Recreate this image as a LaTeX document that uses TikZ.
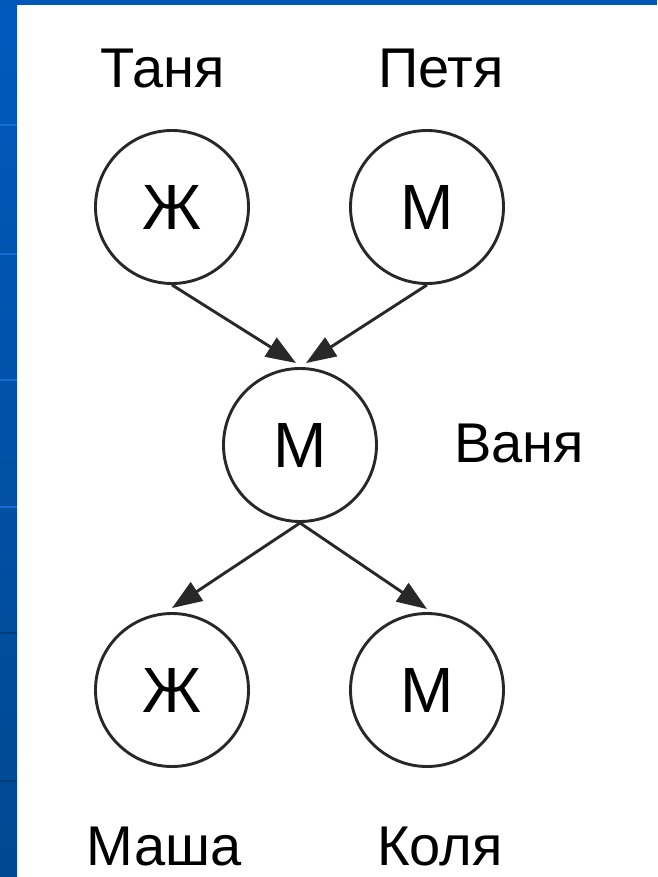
\documentclass[tikz,border=0pt]{standalone}
\usepackage{fontspec}
\setmainfont{Liberation Sans}
\usetikzlibrary{arrows.meta}
\definecolor{stripetop}{RGB}{0,90,190}
\definecolor{stripebot}{RGB}{0,72,145}
\definecolor{topband}{RGB}{0,88,184}
\definecolor{lightrule}{RGB}{20,110,210}
\definecolor{darkrule}{RGB}{0,60,120}
\definecolor{ink}{RGB}{40,40,40}
\begin{document}
\begin{tikzpicture}[x=1pt,y=-1pt,
  person/.style={circle,draw=ink,line width=2.9pt,minimum size=153pt,inner sep=0pt,
    font=\fontsize{64}{66}\selectfont},
  personname/.style={anchor=base,inner sep=0pt,font=\fontsize{56}{60}\selectfont},
  link/.style={draw=ink,line width=2.9pt,-{Triangle[length=30pt,width=22pt]}},
  stripeline/.style={line width=2pt}]
% page with blue frame strips
\fill[white] (0,0) rectangle (657,877);
\useasboundingbox (0,0) rectangle (657,877);
\shade[top color=stripetop,bottom color=stripebot] (0,0) rectangle (17,877);
\fill[topband] (0,0) rectangle (657,5);
\foreach \yy in {125,254,380,507}
  \draw[stripeline,lightrule] (0,\yy) -- (17,\yy);
\foreach \yy in {633,781}
  \draw[stripeline,darkrule] (0,\yy) -- (17,\yy);

% family tree
\node[person] (tanya) at (172,207) {Ж};
\node[person] (petya) at (427,207) {М};
\node[person] (vanya) at (300,445) {М};
\node[person] (masha) at (172,690) {Ж};
\node[person] (kolya) at (427,690) {М};

\node[personname] (ltanya) at (163,88) {Таня};
\node[personname] (lpetya) at (441,88) {Петя};
\node[personname] (lvanya) at (519,462) {Ваня};
\node[personname] (lmasha) at (164,865) {Маша};
\node[personname] (lkolya) at (440,865) {Коля};

\draw[link] (tanya.south) -- ([xshift=-4pt,yshift=4pt]vanya.north);
\draw[link] (petya.south) -- ([xshift=6pt,yshift=4pt]vanya.north);
\draw[link] (vanya.south) -- ([yshift=4pt]masha.north);
\draw[link] (vanya.south) -- ([yshift=3pt]kolya.north);
\end{tikzpicture}
\end{document}
